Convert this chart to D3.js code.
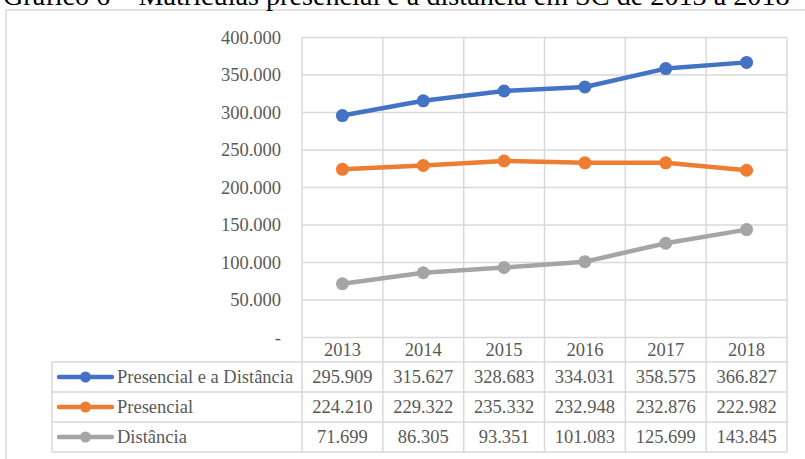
<!DOCTYPE html>
<html><head><meta charset="utf-8">
<script src="https://cdn.jsdelivr.net/npm/d3@7"></script>
<style>body{margin:0;background:#fff}svg{display:block}</style>
</head><body>
<svg id="c" width="805" height="459"></svg>
<script>
const titleText = "Gráfico 6 – Matrículas presencial e a distância em SC de 2013 a 2018";
const years = ["2013","2014","2015","2016","2017","2018"];
const seriesNames = ["Presencial e a Distância","Presencial","Distância"];
const presencialEDistancia = [295909,315627,328683,334031,358575,366827];
const presencial = [224210,229322,235332,232948,232876,222982];
const distancia = [71699,86305,93351,101083,125699,143845];
const yTicks = [0,50000,100000,150000,200000,250000,300000,350000,400000];
const colors = ["#4472C4","#ED7D31","#A5A5A5"];

const series = [presencialEDistancia, presencial, distancia];
const svg = d3.select("#c");
const font = "'Liberation Serif','Times New Roman',serif";
const grid = "#d9d9d9";
const fmt = v => v === 0 ? "-" : d3.format(",")(v).replace(/,/g, ".");

// outer frame
svg.append("rect").attr("x",6).attr("y",10).attr("width",820).attr("height",470)
  .attr("fill","none").attr("stroke",grid).attr("stroke-width",1.5);

// title
const t = svg.append("text").attr("x",3).attr("y",5).attr("font-family",font)
  .attr("font-size",24).attr("fill","#000").text(titleText);
const w = t.node().getComputedTextLength();
t.attr("font-size", 24 * 787 / w);

const x0 = 302, x1 = 787;
const y = d3.scaleLinear().domain([0,400000]).range([337.5,37.5]);
const xb = d3.scaleBand().domain(years).range([x0,x1]);
const xc = d => xb(d) + xb.bandwidth()/2;

// horizontal gridlines
svg.append("g").selectAll("line").data(yTicks).join("line")
  .attr("x1",x0).attr("x2",x1).attr("y1",d=>y(d)).attr("y2",d=>y(d))
  .attr("stroke",grid).attr("stroke-width",1.5);

// y axis labels
svg.append("g").selectAll("text").data(yTicks).join("text")
  .attr("x",281).attr("y",d=>y(d)).attr("dy","0.33em").attr("text-anchor","end")
  .attr("font-family",font).attr("font-size",18.5).attr("fill","#595959").text(fmt);

// vertical lines (plot + header row)
const vx = years.map(d=>xb(d)).concat([x1]);
const tableTop = 362, rowH = 30, tableBottom = tableTop + rowH*3;
svg.append("g").selectAll("line").data(vx).join("line")
  .attr("x1",d=>d).attr("x2",d=>d).attr("y1",y(400000)).attr("y2",tableBottom)
  .attr("stroke",grid).attr("stroke-width",1.5);

// table horizontal lines
const hy = d3.range(4).map(i => tableTop + i*rowH);
svg.append("g").selectAll("line").data(hy).join("line")
  .attr("x1",52).attr("x2",x1).attr("y1",d=>d).attr("y2",d=>d)
  .attr("stroke",grid).attr("stroke-width",1.5);
svg.append("line").attr("x1",52).attr("x2",52).attr("y1",tableTop).attr("y2",tableBottom)
  .attr("stroke",grid).attr("stroke-width",1.5);

// year labels
svg.append("g").selectAll("text").data(years).join("text")
  .attr("x",xc).attr("y",350).attr("dy","0.35em").attr("text-anchor","middle")
  .attr("font-family",font).attr("font-size",18.5).attr("fill","#595959").text(d=>d);

// lines
const line = d3.line().x((d,i)=>xc(years[i])).y(d=>y(d));
series.forEach((s,k)=>{
  svg.append("path").datum(s).attr("d",line).attr("fill","none")
    .attr("stroke",colors[k]).attr("stroke-width",4.5).attr("stroke-linejoin","round");
  svg.append("g").selectAll("circle").data(s).join("circle")
    .attr("cx",(d,i)=>xc(years[i])).attr("cy",d=>y(d)).attr("r",6.5).attr("fill",colors[k]);
});

// table rows
series.forEach((s,k)=>{
  const cy = tableTop + rowH*k + rowH/2;
  svg.append("line").attr("x1",59).attr("x2",112).attr("y1",cy).attr("y2",cy)
    .attr("stroke",colors[k]).attr("stroke-width",4.5).attr("stroke-linecap","round");
  svg.append("circle").attr("cx",85.5).attr("cy",cy).attr("r",5.5).attr("fill",colors[k]);
  svg.append("text").attr("x",117).attr("y",cy).attr("dy","0.33em")
    .attr("font-family",font).attr("font-size",18.5).attr("fill","#595959").text(seriesNames[k]);
  svg.append("g").selectAll("text").data(s).join("text")
    .attr("x",(d,i)=>xc(years[i])).attr("y",cy).attr("dy","0.33em").attr("text-anchor","middle")
    .attr("font-family",font).attr("font-size",18.5).attr("fill","#595959").text(fmt);
});
</script>
</body></html>
